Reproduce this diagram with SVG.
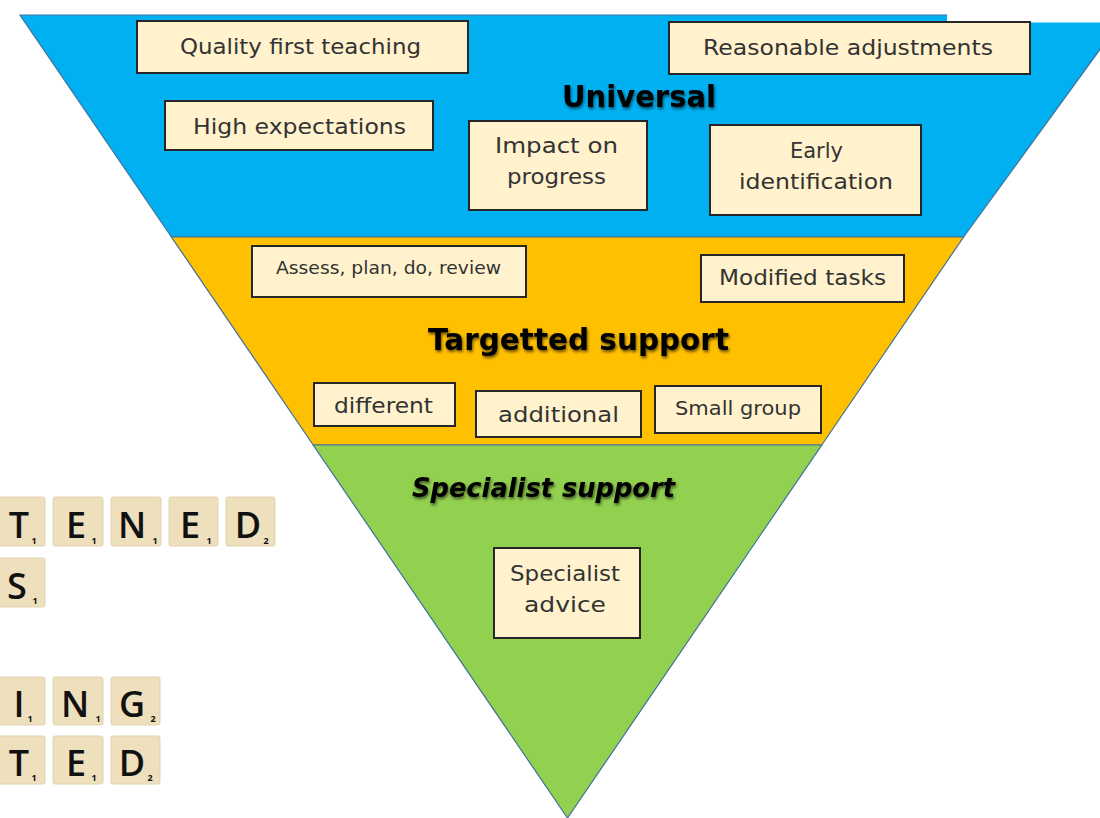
<svg xmlns="http://www.w3.org/2000/svg" width="1100" height="818" viewBox="0 0 1100 818">
  <defs>
    <style>
      .band { stroke: #41719C; stroke-width: 1.2; }
      .box { fill: #FFF2CC; stroke: #262626; stroke-width: 2; }
      .lbl { font-family: "DejaVu Sans", "Liberation Sans", sans-serif; fill: #333333; text-anchor: start; }
      .ttl { font-family: "DejaVu Sans", "Liberation Sans", sans-serif; font-weight: bold; fill: #000000; filter: url(#soft); }
      .tile { fill: #EEDFBD; stroke: #E3D3AE; stroke-width: 1; }
      .let { font-family: "Open Sans", "DejaVu Sans", sans-serif; font-size: 36px; font-weight: 600; fill: #111111; text-anchor: middle; }
      .sub { font-family: "Open Sans", "DejaVu Sans", sans-serif; font-size: 9px; font-weight: bold; fill: #111111; text-anchor: middle; }
    </style>
    <filter id="soft" x="-10%" y="-30%" width="120%" height="160%">
      <feGaussianBlur in="SourceAlpha" stdDeviation="1.6" result="b"/>
      <feOffset in="b" dx="1" dy="1.5" result="o"/>
      <feComponentTransfer in="o" result="s"><feFuncA type="linear" slope="0.6"/></feComponentTransfer>
      <feMerge><feMergeNode in="s"/><feMergeNode in="SourceGraphic"/></feMerge>
    </filter>
  </defs>

  <rect width="1100" height="818" fill="#FFFFFF"/>

  <!-- Inverted pyramid bands -->
  <g id="bands">
    <polygon id="band-universal" class="band" fill="#00B0F0" points="20,15 1125,15 963.6,237 171.4,237"/>
    <polygon id="band-targetted" class="band" fill="#FFC000" points="171.4,237 963.6,237 821.8,445 313.2,445"/>
    <polygon id="band-specialist" class="band" fill="#92D050" points="313.2,445 821.8,445 567.5,818"/>
  </g>
  <!-- white patch over the top-right corner -->
  <rect x="947" y="0" width="153" height="22.5" fill="#FFFFFF"/>

  <!-- Band titles -->
  <g id="titles">
    <text id="t-universal" class="ttl" x="562" y="107" font-size="31" textLength="154" lengthAdjust="spacingAndGlyphs">Universal</text>
    <text id="t-targetted" class="ttl" x="428" y="350" font-size="30" textLength="301" lengthAdjust="spacingAndGlyphs">Targetted support</text>
    <text id="t-specialist" class="ttl" x="412" y="497" font-size="26" font-style="italic" textLength="263" lengthAdjust="spacingAndGlyphs">Specialist support</text>
  </g>

  <!-- Universal boxes -->
  <g id="n-quality">
    <rect class="box" x="137" y="21" width="331" height="52"/>
    <text class="lbl" x="180" y="54" font-size="22" textLength="241" lengthAdjust="spacingAndGlyphs">Quality first teaching</text>
  </g>
  <g id="n-reasonable">
    <rect class="box" x="669" y="22" width="361" height="52"/>
    <text class="lbl" x="703" y="55" font-size="22" textLength="290" lengthAdjust="spacingAndGlyphs">Reasonable adjustments</text>
  </g>
  <g id="n-high">
    <rect class="box" x="165" y="101" width="268" height="49"/>
    <text class="lbl" x="193" y="134" font-size="22" textLength="213" lengthAdjust="spacingAndGlyphs">High expectations</text>
  </g>
  <g id="n-impact">
    <rect class="box" x="469" y="121" width="178" height="89"/>
    <text class="lbl" x="495" y="153" font-size="22" textLength="123" lengthAdjust="spacingAndGlyphs">Impact on</text>
    <text class="lbl" x="507" y="184" font-size="22" textLength="99" lengthAdjust="spacingAndGlyphs">progress</text>
  </g>
  <g id="n-early">
    <rect class="box" x="710" y="125" width="211" height="90"/>
    <text class="lbl" x="790" y="158" font-size="22" textLength="53" lengthAdjust="spacingAndGlyphs">Early</text>
    <text class="lbl" x="739" y="189" font-size="22" textLength="154" lengthAdjust="spacingAndGlyphs">identification</text>
  </g>

  <!-- Targetted boxes -->
  <g id="n-assess">
    <rect class="box" x="252" y="246" width="274" height="51"/>
    <text class="lbl" x="276" y="274" font-size="18" textLength="225" lengthAdjust="spacingAndGlyphs">Assess, plan, do, review</text>
  </g>
  <g id="n-modified">
    <rect class="box" x="701" y="255" width="203" height="47"/>
    <text class="lbl" x="719" y="285" font-size="21" textLength="167" lengthAdjust="spacingAndGlyphs">Modified tasks</text>
  </g>
  <g id="n-different">
    <rect class="box" x="314" y="383" width="141" height="43"/>
    <text class="lbl" x="334" y="413" font-size="21" textLength="99" lengthAdjust="spacingAndGlyphs">different</text>
  </g>
  <g id="n-additional">
    <rect class="box" x="476" y="391" width="165" height="46"/>
    <text class="lbl" x="498" y="422" font-size="22" textLength="121" lengthAdjust="spacingAndGlyphs">additional</text>
  </g>
  <g id="n-small">
    <rect class="box" x="655" y="386" width="166" height="47"/>
    <text class="lbl" x="675" y="415" font-size="19" textLength="126" lengthAdjust="spacingAndGlyphs">Small group</text>
  </g>

  <!-- Specialist box -->
  <g id="n-specialist-advice">
    <rect class="box" x="494" y="548" width="146" height="90"/>
    <text class="lbl" x="510" y="581" font-size="22" textLength="110" lengthAdjust="spacingAndGlyphs">Specialist</text>
    <text class="lbl" x="524" y="612" font-size="22" textLength="82" lengthAdjust="spacingAndGlyphs">advice</text>
  </g>

  <!-- Letter tiles -->
  <g id="tiles">
    <g id="tile-row1">
      <rect class="tile" x="-4" y="497" width="49" height="49" rx="2"/>
      <text class="let" x="19" y="538">T</text><text class="sub" x="34" y="544">1</text>
      <rect class="tile" x="53" y="497" width="50" height="49" rx="2"/>
      <text class="let" x="76" y="538">E</text><text class="sub" x="94" y="544">1</text>
      <rect class="tile" x="111" y="497" width="50" height="49" rx="2"/>
      <text class="let" x="132" y="538">N</text><text class="sub" x="155" y="544">1</text>
      <rect class="tile" x="169" y="497" width="49" height="49" rx="2"/>
      <text class="let" x="190" y="538">E</text><text class="sub" x="209" y="544">1</text>
      <rect class="tile" x="226" y="497" width="49" height="49" rx="2"/>
      <text class="let" x="248" y="538">D</text><text class="sub" x="266" y="544">2</text>
    </g>
    <g id="tile-row2">
      <rect class="tile" x="-4" y="558" width="49" height="49" rx="2"/>
      <text class="let" x="17" y="599">S</text><text class="sub" x="35" y="604">1</text>
    </g>
    <g id="tile-row3">
      <rect class="tile" x="-4" y="677" width="49" height="48" rx="2"/>
      <text class="let" x="19" y="717">I</text><text class="sub" x="30" y="722">1</text>
      <rect class="tile" x="53" y="677" width="50" height="48" rx="2"/>
      <text class="let" x="75" y="717">N</text><text class="sub" x="98" y="722">1</text>
      <rect class="tile" x="111" y="677" width="49" height="48" rx="2"/>
      <text class="let" x="132" y="717">G</text><text class="sub" x="153" y="722">2</text>
    </g>
    <g id="tile-row4">
      <rect class="tile" x="-4" y="736" width="49" height="48" rx="2"/>
      <text class="let" x="19" y="776">T</text><text class="sub" x="34" y="781">1</text>
      <rect class="tile" x="53" y="736" width="50" height="48" rx="2"/>
      <text class="let" x="76" y="776">E</text><text class="sub" x="94" y="781">1</text>
      <rect class="tile" x="111" y="736" width="49" height="48" rx="2"/>
      <text class="let" x="132" y="776">D</text><text class="sub" x="150" y="781">2</text>
    </g>
  </g>
</svg>
